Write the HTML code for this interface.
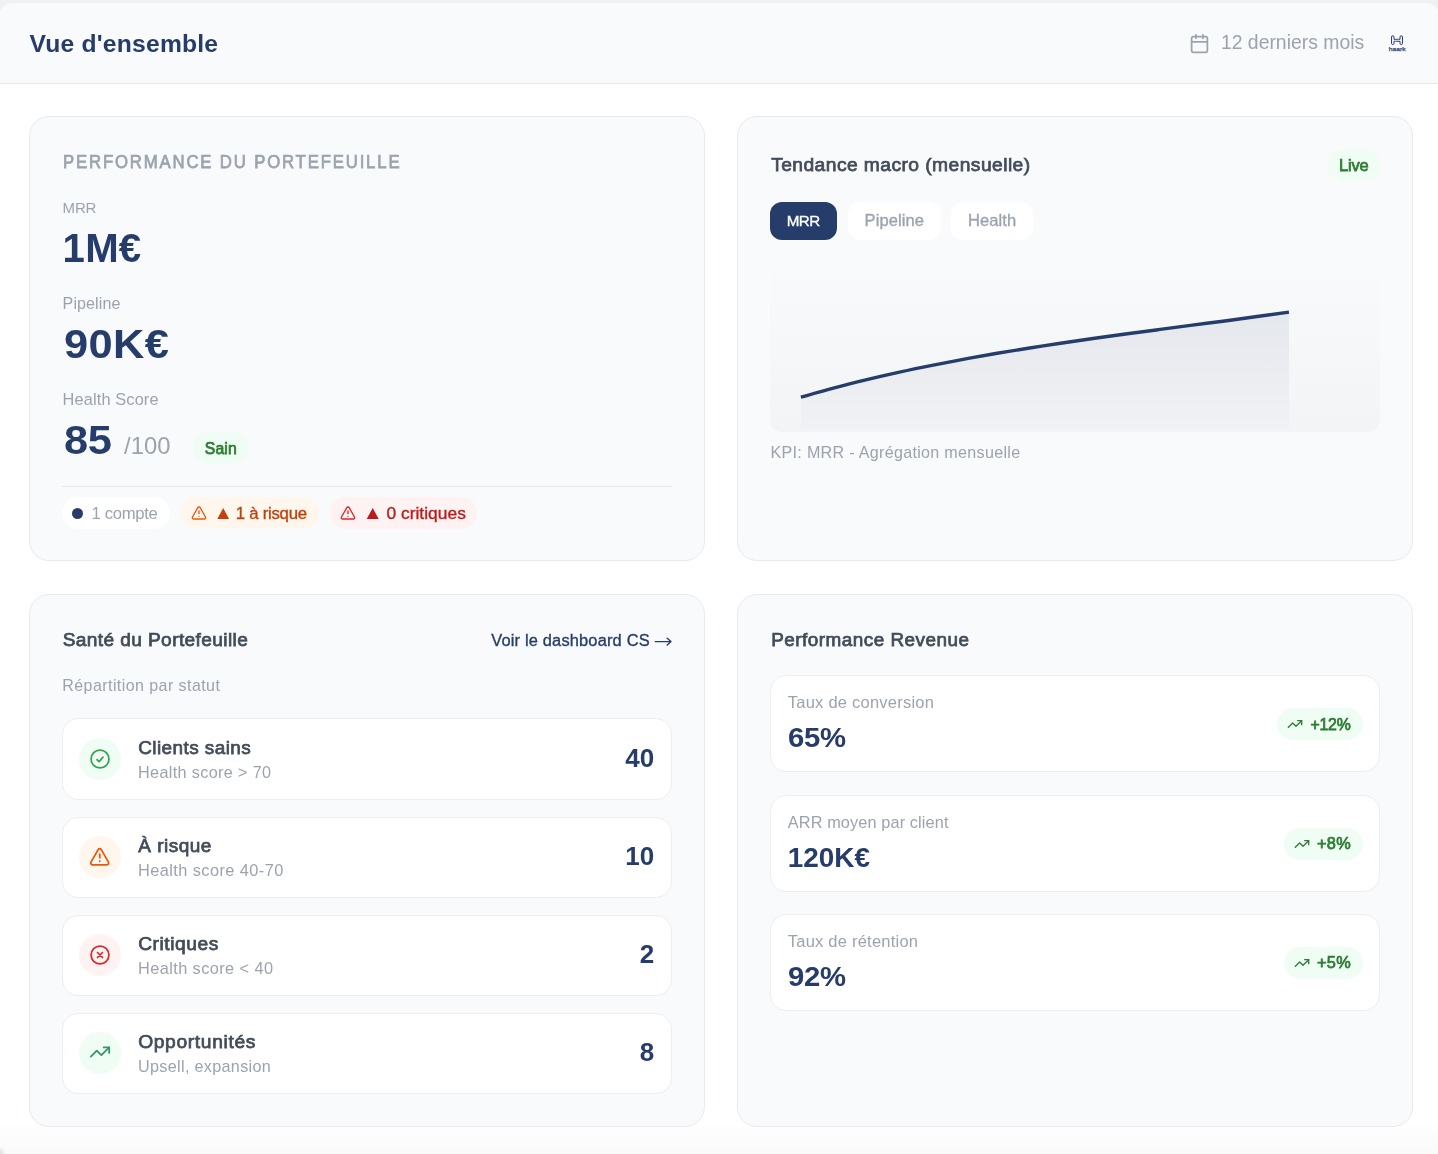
<!DOCTYPE html><html><head><meta charset="utf-8"><style>
*{margin:0;padding:0;box-sizing:border-box}
html,body{width:1438px;height:1154px;overflow:hidden;background:#fff}
body{position:relative;font-family:"Liberation Sans",sans-serif}
.a{position:absolute}
.t{position:absolute;white-space:nowrap;line-height:1;height:auto}
.t{line-height:normal}
.layer{position:absolute;left:0;top:0;width:1438px;height:1154px;will-change:transform}
.card{position:absolute;background:#f9fafb;border:1px solid #e7eaf0;border-radius:20px}
.row{position:absolute;background:#fff;border:1px solid #eceef2;border-radius:16px}
.pill{position:absolute;border-radius:999px}
svg{position:absolute;overflow:visible}
</style></head><body>
<div class="a" style="left:0;top:0;width:1438px;height:20px;background:#f0f1f3"></div>
<div class="a" style="left:-1px;top:3px;width:1441px;height:81px;background:#f9fafb;border-bottom:1px solid #e5e8ee;border-radius:14px 14px 0 0"></div>
<div class="a" style="left:0;top:1122px;width:1438px;height:32px;background:linear-gradient(#fff,#fdfdfd 30%,#fcfcfc 55%,#fafafa)"></div>
<div class="a" style="left:-5px;top:1149px;width:9px;height:9px;border-radius:50%;background:#e4e4e4;filter:blur(1px)"></div>
<svg style="left:1189px;top:33px" width="21" height="21" viewBox="0 0 24 24" fill="none" stroke="#9ca3af" stroke-width="2" stroke-linecap="round" stroke-linejoin="round"><rect width="18" height="18" x="3" y="4" rx="2"/><path d="M16 2v4"/><path d="M8 2v4"/><path d="M3 10h18"/></svg>
<svg style="left:0;top:0" width="1438" height="60"><path d="M1391.5 37 A1.25 1.25 0 0 1 1394 37 V39.3 H1400 V37 A1.25 1.25 0 0 1 1402.5 37 V43.3 A1.25 1.25 0 0 1 1400 43.3 V41.3 H1394 V43.3 A1.25 1.25 0 0 1 1391.5 43.3 Z" fill="#e9ecf3" fill-opacity="0.6" stroke="#2b3f73" stroke-width="1"/><circle cx="1398" cy="39.3" r="0.6" fill="#c9a24a"/><circle cx="1395.8" cy="41.3" r="0.6" fill="#c9a24a"/><text x="1388.7" y="50.6" font-family="Liberation Sans" font-weight="400" font-size="6.1" fill="#2b3f73" stroke="#2b3f73" stroke-width="0.25" textLength="16.9" lengthAdjust="spacingAndGlyphs">haark</text></svg>
<div class="card" style="left:29px;top:116px;width:676px;height:445px"></div>
<div class="card" style="left:737px;top:116px;width:676px;height:445px"></div>
<div class="card" style="left:29px;top:594px;width:676px;height:533px"></div>
<div class="card" style="left:737px;top:594px;width:676px;height:533px"></div>
<div class="pill" style="left:192.7px;top:431.7px;width:55.6px;height:32.4px;background:#f0fdf4"></div>
<div class="a" style="left:62px;top:486px;width:610px;height:1px;background:#e5e7eb"></div>
<div class="pill" style="left:62px;top:497px;width:108px;height:32px;background:#ffffff"></div>
<div class="a" style="left:72px;top:508px;width:11px;height:11px;border-radius:50%;background:#263d6b"></div>
<div class="pill" style="left:180px;top:497px;width:138.6px;height:32px;background:#fff7ed"></div>
<div class="pill" style="left:330px;top:497px;width:147px;height:32px;background:#fef2f2"></div>
<svg style="left:190.8px;top:505.3px" width="16" height="16" viewBox="0 0 24 24" fill="none" stroke="#ea580c" stroke-width="2" stroke-linecap="round" stroke-linejoin="round"><path d="m21.73 18-8-14a2 2 0 0 0-3.48 0l-8 14A2 2 0 0 0 4 21h16a2 2 0 0 0 1.73-3"/><path d="M12 9v4"/><path d="M12 17h.01"/></svg>
<svg style="left:339.9px;top:505.3px" width="16" height="16" viewBox="0 0 24 24" fill="none" stroke="#dc2626" stroke-width="2" stroke-linecap="round" stroke-linejoin="round"><path d="m21.73 18-8-14a2 2 0 0 0-3.48 0l-8 14A2 2 0 0 0 4 21h16a2 2 0 0 0 1.73-3"/><path d="M12 9v4"/><path d="M12 17h.01"/></svg>
<svg style="left:0;top:0" width="1438" height="1154"><path d="M217.3 519 L223.2 508 L229.1 519 Z" fill="#c2410c"/><path d="M366.7 519 L372.7 508 L378.7 519 Z" fill="#b91c1c"/><path d="M655.2 641.6 H670.6 M667.2 638.2 L671 641.6 L667.2 645" fill="none" stroke="#263d6b" stroke-width="1.4" stroke-linecap="round" stroke-linejoin="round"/></svg>
<div class="pill" style="left:1326.8px;top:148.8px;width:53.2px;height:32px;background:#f0fdf4"></div>
<div class="a" style="left:770px;top:202px;width:67px;height:38px;border-radius:12px;background:#263d6b"></div>
<div class="a" style="left:848px;top:202px;width:93px;height:38px;border-radius:12px;background:#fff"></div>
<div class="a" style="left:951px;top:202px;width:82px;height:38px;border-radius:12px;background:#fff"></div>
<div class="a" style="left:770px;top:264px;width:610px;height:168px;border-radius:12px;background:linear-gradient(#f9fafb,#f3f4f6)"></div>
<svg style="left:0;top:0" width="1438" height="1154"><defs><linearGradient id="ga" x1="0" y1="0" x2="0" y2="1"><stop offset="0" stop-color="#263d6b" stop-opacity="0.09"/><stop offset="1" stop-color="#263d6b" stop-opacity="0.015"/></linearGradient></defs><path d="M800.9 397.2 C806.3 395.7 822.5 391.0 833.4 388.2 C844.2 385.3 855.0 382.5 865.8 379.9 C876.6 377.3 887.5 374.8 898.3 372.4 C909.1 370.0 919.9 367.7 930.7 365.6 C941.6 363.4 952.4 361.3 963.2 359.3 C974.0 357.3 984.8 355.4 995.7 353.5 C1006.5 351.7 1017.3 349.9 1028.1 348.2 C1038.9 346.5 1049.8 344.8 1060.6 343.2 C1071.4 341.6 1082.2 340.0 1093.0 338.5 C1103.9 337.0 1114.7 335.5 1125.5 334.0 C1136.3 332.6 1147.1 331.1 1158.0 329.7 C1168.8 328.3 1179.6 326.9 1190.4 325.4 C1201.2 324.0 1212.1 322.6 1222.9 321.2 C1233.7 319.7 1244.3 318.3 1255.3 316.8 C1266.4 315.3 1283.4 312.9 1289.0 312.1 L1289 429 L800.9 429 Z" fill="url(#ga)"/><path d="M800.9 397.2 C806.3 395.7 822.5 391.0 833.4 388.2 C844.2 385.3 855.0 382.5 865.8 379.9 C876.6 377.3 887.5 374.8 898.3 372.4 C909.1 370.0 919.9 367.7 930.7 365.6 C941.6 363.4 952.4 361.3 963.2 359.3 C974.0 357.3 984.8 355.4 995.7 353.5 C1006.5 351.7 1017.3 349.9 1028.1 348.2 C1038.9 346.5 1049.8 344.8 1060.6 343.2 C1071.4 341.6 1082.2 340.0 1093.0 338.5 C1103.9 337.0 1114.7 335.5 1125.5 334.0 C1136.3 332.6 1147.1 331.1 1158.0 329.7 C1168.8 328.3 1179.6 326.9 1190.4 325.4 C1201.2 324.0 1212.1 322.6 1222.9 321.2 C1233.7 319.7 1244.3 318.3 1255.3 316.8 C1266.4 315.3 1283.4 312.9 1289.0 312.1" fill="none" stroke="#263d6b" stroke-width="3.4" stroke-linecap="butt"/></svg>
<div class="row" style="left:62px;top:718.3px;width:610px;height:81.3px"></div>
<div class="a" style="left:79px;top:738.0px;width:42px;height:42px;border-radius:50%;background:#f0fdf4"></div>
<svg style="left:87.6px;top:746.7px" width="24" height="24" viewBox="0 0 24 24" fill="none" stroke="#2fa34a" stroke-width="1.7" stroke-linecap="round" stroke-linejoin="round"><circle cx="12" cy="12" r="8.9"/><path d="M9 12.6 11.1 14.7 15 10.1"/></svg>
<div class="row" style="left:62px;top:816.5px;width:610px;height:81.3px"></div>
<div class="a" style="left:79px;top:836.2px;width:42px;height:42px;border-radius:50%;background:#fff7ed"></div>
<svg style="left:88.85px;top:846.0px" width="21.5" height="21.5" viewBox="0 0 24 24" fill="none" stroke="#ea580c" stroke-width="2" stroke-linecap="round" stroke-linejoin="round"><path d="m21.73 18-8-14a2 2 0 0 0-3.48 0l-8 14A2 2 0 0 0 4 21h16a2 2 0 0 0 1.73-3"/><path d="M12 9v4"/><path d="M12 17h.01"/></svg>
<div class="row" style="left:62px;top:914.5px;width:610px;height:81.3px"></div>
<div class="a" style="left:79px;top:934.2px;width:42px;height:42px;border-radius:50%;background:#fef2f2"></div>
<svg style="left:87.7px;top:942.6px" width="24" height="24" viewBox="0 0 24 24" fill="none" stroke="#dc2626" stroke-width="1.7" stroke-linecap="round" stroke-linejoin="round"><circle cx="12" cy="12" r="8.9"/><path d="M9.5 9.5l5 5M14.5 9.5l-5 5"/></svg>
<div class="row" style="left:62px;top:1012.5px;width:610px;height:81.3px"></div>
<div class="a" style="left:79px;top:1032.2px;width:42px;height:42px;border-radius:50%;background:#f0fdf4"></div>
<svg style="left:89px;top:1041.4px" width="22" height="22" viewBox="0 0 24 24" fill="none" stroke="#36966a" stroke-width="2" stroke-linecap="round" stroke-linejoin="round"><polyline points="22 7 13.5 15.5 8.5 10.5 2 17"/><polyline points="16 7 22 7 22 13"/></svg>
<div class="row" style="left:770px;top:675.3px;width:610px;height:96.8px"></div>
<div class="pill" style="left:1277px;top:707.9px;width:86.1px;height:32px;background:#f0fdf4"></div>
<svg style="left:1287.0px;top:716.3px" width="16" height="16" viewBox="0 0 24 24" fill="none" stroke="#2e7d32" stroke-width="2" stroke-linecap="round" stroke-linejoin="round"><polyline points="22 7 13.5 15.5 8.5 10.5 2 17"/><polyline points="16 7 22 7 22 13"/></svg>
<div class="row" style="left:770px;top:795.3px;width:610px;height:96.8px"></div>
<div class="pill" style="left:1284px;top:827.9px;width:79.1px;height:32px;background:#f0fdf4"></div>
<svg style="left:1294.0px;top:836.3px" width="16" height="16" viewBox="0 0 24 24" fill="none" stroke="#2e7d32" stroke-width="2" stroke-linecap="round" stroke-linejoin="round"><polyline points="22 7 13.5 15.5 8.5 10.5 2 17"/><polyline points="16 7 22 7 22 13"/></svg>
<div class="row" style="left:770px;top:914.3px;width:610px;height:96.8px"></div>
<div class="pill" style="left:1284px;top:946.9px;width:79.1px;height:32px;background:#f0fdf4"></div>
<svg style="left:1294.0px;top:955.3px" width="16" height="16" viewBox="0 0 24 24" fill="none" stroke="#2e7d32" stroke-width="2" stroke-linecap="round" stroke-linejoin="round"><polyline points="22 7 13.5 15.5 8.5 10.5 2 17"/><polyline points="16 7 22 7 22 13"/></svg>
<div class="layer">
<div class="t" id="h1" style="left:29.50px;top:30.00px;font-size:24.66px;color:#263d6b;font-weight:700;letter-spacing:0.21px;">Vue d'ensemble</div>
<div class="t" id="period" style="left:1220.90px;top:31.00px;font-size:19.40px;color:#9ca3af;">12 derniers mois</div>
<div class="t" id="c1t" style="left:62.98px;top:151.00px;font-size:18.60px;color:#9ca3af;letter-spacing:2.04px;-webkit-text-stroke:0.75px #9ca3af;transform:scaleX(0.9);transform-origin:-0.38px 0;">PERFORMANCE DU PORTEFEUILLE</div>
<div class="t" id="l_mrr" style="left:62.60px;top:199.00px;font-size:15.00px;color:#9ca3af;letter-spacing:-0.21px;">MRR</div>
<div class="t" id="v_mrr" style="left:62.60px;top:226.00px;font-size:40.18px;color:#263d6b;font-weight:700;letter-spacing:0.23px;">1M€</div>
<div class="t" id="l_pipe" style="left:62.60px;top:294.00px;font-size:16.08px;color:#9ca3af;letter-spacing:0.08px;">Pipeline</div>
<div class="t" id="v_pipe" style="left:63.60px;top:322.00px;font-size:40.20px;color:#263d6b;font-weight:700;letter-spacing:0.32px;transform:scaleX(1.08);transform-origin:0.00px 0;">90K€</div>
<div class="t" id="l_hs" style="left:62.60px;top:390.00px;font-size:16.34px;color:#9ca3af;letter-spacing:0.14px;">Health Score</div>
<div class="t" id="v_hs" style="left:63.60px;top:418.00px;font-size:40.20px;color:#263d6b;font-weight:700;letter-spacing:-0.46px;transform:scaleX(1.08);transform-origin:0.00px 0;">85</div>
<div class="t" id="v_100" style="left:124.10px;top:432.00px;font-size:23.84px;color:#9ca3af;letter-spacing:-0.03px;">/100</div>
<div class="t" id="sain" style="left:204.78px;top:440.00px;font-size:15.81px;color:#2e7d32;letter-spacing:0.11px;-webkit-text-stroke:0.75px #2e7d32;">Sain</div>
<div class="t" id="compte" style="left:91.60px;top:504.00px;font-size:16.72px;color:#9ca3af;letter-spacing:-0.35px;">1 compte</div>
<div class="t" id="risque" style="left:235.68px;top:504.00px;font-size:16.80px;color:#c2410c;letter-spacing:-0.25px;-webkit-text-stroke:0.35px #c2410c;">1 à risque</div>
<div class="t" id="crit" style="left:386.38px;top:503.00px;font-size:17.39px;color:#b91c1c;letter-spacing:0.03px;-webkit-text-stroke:0.35px #b91c1c;">0 critiques</div>
<div class="t" id="c2t" style="left:771.17px;top:154.00px;font-size:19.26px;color:#434c5a;letter-spacing:0.43px;-webkit-text-stroke:0.75px #434c5a;">Tendance macro (mensuelle)</div>
<div class="t" id="live" style="left:1339.08px;top:156.00px;font-size:16.46px;color:#2e7d32;letter-spacing:-0.18px;-webkit-text-stroke:0.75px #2e7d32;">Live</div>
<div class="t" id="tab1" style="left:786.67px;top:212.00px;font-size:15.20px;color:#ffffff;letter-spacing:-0.46px;-webkit-text-stroke:0.35px #ffffff;">MRR</div>
<div class="t" id="tab2" style="left:864.57px;top:211.00px;font-size:16.53px;color:#9ca3af;letter-spacing:0.10px;-webkit-text-stroke:0.35px #9ca3af;">Pipeline</div>
<div class="t" id="tab3" style="left:967.88px;top:211.00px;font-size:16.54px;color:#9ca3af;letter-spacing:0.11px;-webkit-text-stroke:0.35px #9ca3af;">Health</div>
<div class="t" id="kpi" style="left:770.50px;top:443.00px;font-size:16.10px;color:#9ca3af;letter-spacing:0.30px;">KPI: MRR - Agrégation mensuelle</div>
<div class="t" id="c3t" style="left:62.67px;top:629.00px;font-size:19.13px;color:#434c5a;letter-spacing:0.39px;-webkit-text-stroke:0.75px #434c5a;">Santé du Portefeuille</div>
<div class="t" id="link" style="left:491.18px;top:631.00px;font-size:16.42px;color:#263d6b;letter-spacing:0.18px;-webkit-text-stroke:0.35px #263d6b;">Voir le dashboard CS</div>
<div class="t" id="rep" style="left:62.30px;top:677.00px;font-size:15.96px;color:#9ca3af;letter-spacing:0.45px;">Répartition par statut</div>
<div class="t" id="r0a" style="left:138.18px;top:737.00px;font-size:18.94px;color:#434c5a;letter-spacing:0.44px;-webkit-text-stroke:0.75px #434c5a;">Clients sains</div>
<div class="t" id="r0b" style="left:138.00px;top:763.00px;font-size:16.22px;color:#9ca3af;letter-spacing:0.35px;">Health score > 70</div>
<div class="t" id="r0n" style="left:625.34px;top:743.00px;font-size:26.00px;color:#263d6b;font-weight:700;">40</div>
<div class="t" id="r1a" style="left:138.18px;top:835.00px;font-size:18.99px;color:#434c5a;letter-spacing:0.51px;-webkit-text-stroke:0.75px #434c5a;">À risque</div>
<div class="t" id="r1b" style="left:138.00px;top:861.00px;font-size:16.35px;color:#9ca3af;letter-spacing:0.42px;">Health score 40-70</div>
<div class="t" id="r1n" style="left:625.34px;top:841.00px;font-size:26.00px;color:#263d6b;font-weight:700;">10</div>
<div class="t" id="r2a" style="left:138.18px;top:933.00px;font-size:19.18px;color:#434c5a;letter-spacing:0.57px;-webkit-text-stroke:0.75px #434c5a;">Critiques</div>
<div class="t" id="r2b" style="left:138.00px;top:959.00px;font-size:16.34px;color:#9ca3af;letter-spacing:0.41px;">Health score < 40</div>
<div class="t" id="r2n" style="left:639.77px;top:939.00px;font-size:26.00px;color:#263d6b;font-weight:700;">2</div>
<div class="t" id="r3a" style="left:138.18px;top:1031.00px;font-size:19.24px;color:#434c5a;letter-spacing:0.64px;-webkit-text-stroke:0.75px #434c5a;">Opportunités</div>
<div class="t" id="r3b" style="left:138.00px;top:1057.00px;font-size:16.17px;color:#9ca3af;letter-spacing:0.33px;">Upsell, expansion</div>
<div class="t" id="r3n" style="left:639.77px;top:1037.00px;font-size:26.00px;color:#263d6b;font-weight:700;">8</div>
<div class="t" id="c4t" style="left:771.17px;top:629.00px;font-size:18.90px;color:#434c5a;letter-spacing:0.49px;-webkit-text-stroke:0.75px #434c5a;">Performance Revenue</div>
<div class="t" id="p0a" style="left:787.80px;top:693.00px;font-size:16.51px;color:#9ca3af;letter-spacing:0.23px;">Taux de conversion</div>
<div class="t" id="p0v" style="left:787.80px;top:722.00px;font-size:27.90px;color:#263d6b;font-weight:700;letter-spacing:-0.33px;transform:scaleX(1.05);transform-origin:0.00px 0;">65%</div>
<div class="t" id="p0b" style="left:1310.57px;top:716.00px;font-size:15.80px;color:#2e7d32;letter-spacing:-0.23px;-webkit-text-stroke:0.75px #2e7d32;">+12%</div>
<div class="t" id="p1a" style="left:787.80px;top:813.00px;font-size:16.30px;color:#9ca3af;letter-spacing:0.12px;">ARR moyen par client</div>
<div class="t" id="p1v" style="left:787.80px;top:842.00px;font-size:27.90px;color:#263d6b;font-weight:700;">120K€</div>
<div class="t" id="p1b" style="left:1317.07px;top:834.00px;font-size:16.32px;color:#2e7d32;letter-spacing:0.26px;-webkit-text-stroke:0.75px #2e7d32;">+8%</div>
<div class="t" id="p2a" style="left:787.80px;top:932.00px;font-size:16.52px;color:#9ca3af;letter-spacing:0.22px;">Taux de rétention</div>
<div class="t" id="p2v" style="left:787.80px;top:961.00px;font-size:27.90px;color:#263d6b;font-weight:700;letter-spacing:-0.28px;transform:scaleX(1.05);transform-origin:0.00px 0;">92%</div>
<div class="t" id="p2b" style="left:1317.07px;top:953.00px;font-size:16.32px;color:#2e7d32;letter-spacing:0.26px;-webkit-text-stroke:0.75px #2e7d32;">+5%</div>
</div>
</body></html>
